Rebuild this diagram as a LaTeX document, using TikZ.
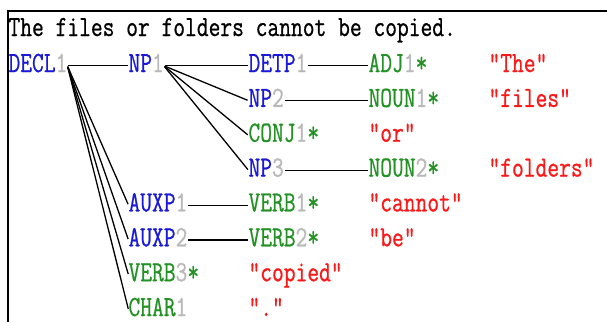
\documentclass[tikz,border=0pt]{standalone}
\usepackage{graphicx}
\usepackage{fontspec}
\newfontfamily\courlike[FakeBold=0.8]{Latin Modern Mono}
\definecolor{cblue}{RGB}{25,25,215}
\definecolor{cgreen}{RGB}{35,145,35}
\definecolor{cgray}{RGB}{185,185,185}
\definecolor{cred}{RGB}{250,25,25}
\newcommand\Bl[2]{\textcolor{cblue}{#1}\textcolor{cgray}{#2}}
\newcommand\Gr[2]{\textcolor{cgreen}{#1}\textcolor{cgray}{#2}}
\newcommand\Gs[2]{\textcolor{cgreen}{#1}\textcolor{cgray}{#2}\textcolor{cgreen}{*}}
\newcommand\Rd[1]{\textcolor{cred}{"#1"}}
\begin{document}
\begin{tikzpicture}[x=1pt,y=-1pt,
  lab/.style={anchor=base west,inner sep=0pt,outer sep=0pt,
    font=\fontsize{22.86}{24}\courlike,text height=12.5pt,text depth=0pt},
  conn/.style={draw=black,line width=1.3pt,shorten <=1pt,shorten >=1pt}]
\useasboundingbox (0,0) rectangle (607,322);
\fill[white] (0,0) rectangle (607,322);
\draw[line width=2pt] (8,322) -- (8,11) -- (607,11);
\def\sc#1{\scalebox{1}[1.28]{#1}}
% rows baselines: 72 + 34.86*(r-1)
\node[lab] (title) at (8.5,36) {\sc{The files or folders cannot be copied.}};
\node[lab] (decl)  at (8.5,72)    {\sc{\Bl{DECL}{1}}};
\node[lab] (np1)   at (128.5,72)  {\sc{\Bl{NP}{1}}};
\node[lab] (detp1) at (248.5,72)  {\sc{\Bl{DETP}{1}}};
\node[lab] (adj1)  at (368.5,72)  {\sc{\Gs{ADJ}{1}}};
\node[lab] (w1)    at (488.5,72)  {\sc{\Rd{The}}};
\node[lab] (np2)   at (248.5,106.9) {\sc{\Bl{NP}{2}}};
\node[lab] (noun1) at (368.5,106.9) {\sc{\Gs{NOUN}{1}}};
\node[lab] (w2)    at (488.5,106.9) {\sc{\Rd{files}}};
\node[lab] (conj1) at (248.5,141.7) {\sc{\Gs{CONJ}{1}}};
\node[lab] (w3)    at (368.5,141.7) {\sc{\Rd{or}}};
\node[lab] (np3)   at (248.5,176.6) {\sc{\Bl{NP}{3}}};
\node[lab] (noun2) at (368.5,176.6) {\sc{\Gs{NOUN}{2}}};
\node[lab] (w4)    at (488.5,176.6) {\sc{\Rd{folders}}};
\node[lab] (auxp1) at (128.5,211.4) {\sc{\Bl{AUXP}{1}}};
\node[lab] (verb1) at (248.5,211.4) {\sc{\Gs{VERB}{1}}};
\node[lab] (w5)    at (368.5,211.4) {\sc{\Rd{cannot}}};
\node[lab] (auxp2) at (128.5,246.3) {\sc{\Bl{AUXP}{2}}};
\node[lab] (verb2) at (248.5,246.3) {\sc{\Gs{VERB}{2}}};
\node[lab] (w6)    at (368.5,246.3) {\sc{\Rd{be}}};
\node[lab] (verb3) at (128.5,281.2) {\sc{\Gs{VERB}{3}}};
\node[lab] (w7)    at (248.5,281.2) {\sc{\Rd{copied}}};
\node[lab] (char1) at (128.5,316) {\sc{\Gr{CHAR}{1}}};
\node[lab] (w8)    at (248.5,316) {\sc{\Rd{.}}};
% connectors
\draw[conn] (decl.east) -- (np1.west);
\draw[conn] (decl.east) -- (auxp1.west);
\draw[conn] (decl.east) -- (auxp2.west);
\draw[conn] (decl.east) -- (verb3.west);
\draw[conn] (decl.east) -- (char1.west);
\draw[conn] (np1.east) -- (detp1.west);
\draw[conn] (np1.east) -- (np2.west);
\draw[conn] (np1.east) -- (conj1.west);
\draw[conn] (np1.east) -- (np3.west);
\draw[conn] (detp1.east) -- (adj1.west);
\draw[conn] (np2.east) -- (noun1.west);
\draw[conn] (np3.east) -- (noun2.west);
\draw[conn] (auxp1.east) -- (verb1.west);
\draw[conn] (auxp2.east) -- (verb2.west);
\end{tikzpicture}
\end{document}
